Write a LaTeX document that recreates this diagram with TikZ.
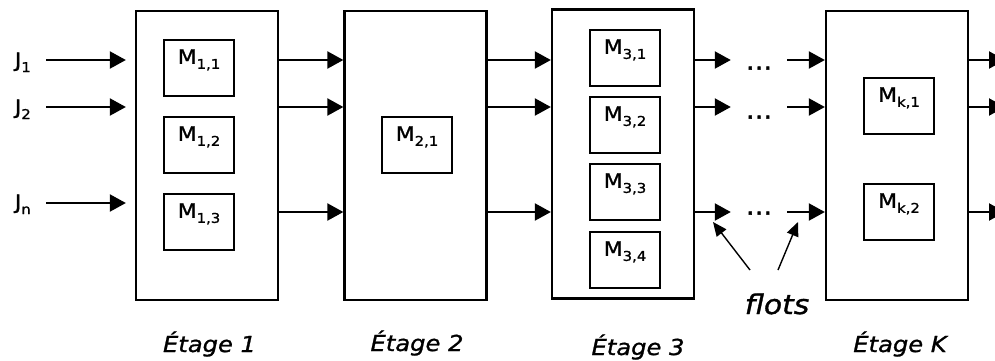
\documentclass[tikz,border=0pt]{standalone}
\usepackage{fontspec}
\setmainfont{DejaVu Sans}[FakeStretch=1.1, FakeBold=1.2]
\usetikzlibrary{arrows.meta}
\newcommand{\subx}[1]{\raisebox{-5pt}{\fontsize{13.5}{14}\selectfont #1}}
\tikzset{
  stagebox/.style={draw, line width=2.3pt, minimum width=142pt, minimum height=289pt, inner sep=0pt},
  machbox/.style={draw, line width=2.3pt, minimum width=70pt, minimum height=56pt, inner sep=0pt},
  mtext/.style={anchor=base, inner sep=0pt, font=\fontsize{20}{20}\selectfont},
  jtext/.style={anchor=base east, inner sep=0pt, font=\fontsize{20}{20}\selectfont},
  etage/.style={anchor=base, inner sep=0pt, font=\fontsize{22}{22}\selectfont\itshape},
  flotstext/.style={anchor=base, inner sep=0pt, font=\fontsize{27}{27}\selectfont\itshape},
  dotsnode/.style={anchor=base, inner sep=0pt, minimum width=56pt, font=\fontsize{24}{24}\selectfont},
  arr/.style={line width=2.1pt, -{Triangle[length=16pt,width=17pt]}},
  thinarr/.style={line width=1.4pt, -{Triangle[length=14pt,width=12pt]}}
}
\begin{document}
\begin{tikzpicture}[x=1pt,y=-1pt]
\useasboundingbox (0,0) rectangle (995,360);
% rows
\coordinate (r1) at (0,60);
\coordinate (r2) at (0,107);
\coordinate (r3) at (0,212);
\coordinate (rj) at (0,203);
% stages
\node[stagebox] (s1) at (207,155.5) {};
\node[stagebox] (s2) at (415.5,155.5) {};
\node[stagebox] (s3) at (623,154) {};
\node[stagebox] (sK) at (897,155.5) {};
% machines
\node[machbox] (m11) at (199,68) {};
\node[machbox] (m12) at (199,145) {};
\node[machbox] (m13) at (199,222) {};
\node[machbox] (m21) at (417,145) {};
\node[machbox] (m31) at (625,58) {};
\node[machbox] (m32) at (625,125) {};
\node[machbox] (m33) at (625,192) {};
\node[machbox] (m34) at (625,260) {};
\node[machbox] (mk1) at (899,106) {};
\node[machbox] (mk2) at (899,212) {};
% machine labels
\node[mtext] (t11) at ([yshift=-25pt]m11.north) {M\subx{1,1}};
\node[mtext] (t12) at ([yshift=-25pt]m12.north) {M\subx{1,2}};
\node[mtext] (t13) at ([yshift=-25pt]m13.north) {M\subx{1,3}};
\node[mtext] (t21) at ([yshift=-25pt]m21.north) {M\subx{2,1}};
\node[mtext] (t31) at ([yshift=-25pt]m31.north) {M\subx{3,1}};
\node[mtext] (t32) at ([yshift=-25pt]m32.north) {M\subx{3,2}};
\node[mtext] (t33) at ([yshift=-25pt]m33.north) {M\subx{3,3}};
\node[mtext] (t34) at ([yshift=-25pt]m34.north) {M\subx{3,4}};
\node[mtext] (tk1) at ([yshift=-25pt]mk1.north) {M\subx{k,1}};
\node[mtext] (tk2) at ([yshift=-25pt]mk2.north) {M\subx{k,2}};
% job labels
\node[jtext] (j1) at (31,67) {J\subx{1}};
\node[jtext] (j2) at (31,114) {J\subx{2}};
\node[jtext] (jn) at (31,209) {J\subx{n}};
\draw[arr, shorten <=15pt, shorten >=9pt] (j1.east |- r1) -- (s1.west |- r1);
\draw[arr, shorten <=15pt, shorten >=9pt] (j2.east |- r2) -- (s1.west |- r2);
\draw[arr, shorten <=15pt, shorten >=9pt] (jn.east |- rj) -- (s1.west |- rj);
% stage 1 -> stage 2 -> stage 3
\draw[arr] (s1.east |- r1) -- (s2.west |- r1);
\draw[arr] (s1.east |- r2) -- (s2.west |- r2);
\draw[arr] (s1.east |- r3) -- (s2.west |- r3);
\draw[arr] (s2.east |- r1) -- (s3.west |- r1);
\draw[arr] (s2.east |- r2) -- (s3.west |- r2);
\draw[arr] (s2.east |- r3) -- (s3.west |- r3);
% dots
\node[dotsnode] (d1) at (759,69.6) {…};
\node[dotsnode] (d2) at (759,118.6) {…};
\node[dotsnode] (d3) at (759,214.6) {…};
\draw[arr] (s3.east |- r1) -- (d1.west |- r1);
\draw[arr] (s3.east |- r2) -- (d2.west |- r2);
\draw[arr] (s3.east |- r3) -- (d3.west |- r3);
\draw[arr] (d1.east |- r1) -- (sK.west |- r1);
\draw[arr] (d2.east |- r2) -- (sK.west |- r2);
\draw[arr] (d3.east |- r3) -- (sK.west |- r3);
% stage K outputs
\coordinate (o1) at (1005,60);
\coordinate (o2) at (1005,107);
\coordinate (o3) at (1005,212);
\draw[arr] (sK.east |- o1) -- (o1);
\draw[arr] (sK.east |- o2) -- (o2);
\draw[arr] (sK.east |- o3) -- (o3);
% flots
\node[flotstext] (fl) at (777,314) {flots};
\coordinate (ft1) at (750,270);
\coordinate (ft2) at (778,270);
\coordinate (fh1) at (713,222);
\coordinate (fh2) at (798,222);
\draw[thinarr] (ft1) -- (fh1);
\draw[thinarr] (ft2) -- (fh2);
% stage labels
\node[etage] (e1) at (209.5,352) {Étage 1};
\node[etage] (e2) at (417,351) {Étage 2};
\node[etage] (e3) at (638,355) {Étage 3};
\node[etage] (eK) at (900,352) {Étage K};
\end{tikzpicture}
\end{document}
